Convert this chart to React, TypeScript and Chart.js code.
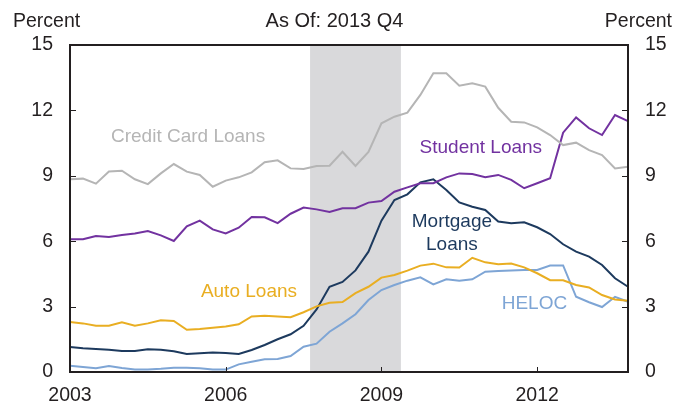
import React, { useEffect, useRef } from 'react';
import { Chart, registerables } from 'chart.js';

Chart.register(...registerables);

const years = ['2003', '2004', '2005', '2006', '2007', '2008', '2009', '2010', '2011', '2012', '2013'];
const quarters = years.flatMap((y) => ['Q1', 'Q2', 'Q3', 'Q4'].map((q) => `${y} ${q}`));
const tickYears = ['2003', '2006', '2009', '2012'];
const yTicks = [0, 3, 6, 9, 12, 15];

const creditCard = [8.84, 8.87, 8.64, 9.2, 9.23, 8.84, 8.62, 9.11, 9.54, 9.19, 9.04, 8.5, 8.78, 8.93, 9.16, 9.62, 9.71, 9.34, 9.31, 9.45, 9.46, 10.1, 9.45, 10.1, 11.41, 11.71, 11.9, 12.71, 13.7, 13.7, 13.13, 13.24, 13.09, 12.12, 11.48, 11.45, 11.22, 10.87, 10.41, 10.52, 10.18, 9.95, 9.34, 9.42];
const student = [6.09, 6.09, 6.24, 6.19, 6.28, 6.35, 6.47, 6.27, 6.01, 6.68, 6.94, 6.54, 6.36, 6.62, 7.11, 7.1, 6.83, 7.26, 7.54, 7.46, 7.34, 7.51, 7.51, 7.77, 7.84, 8.27, 8.47, 8.66, 8.66, 8.93, 9.11, 9.08, 8.93, 9.04, 8.81, 8.43, 8.66, 8.89, 10.98, 11.68, 11.18, 10.87, 11.79, 11.51];
const mortgage = [1.15, 1.09, 1.06, 1.02, 0.96, 0.96, 1.04, 1.02, 0.95, 0.83, 0.86, 0.89, 0.87, 0.83, 1.01, 1.24, 1.5, 1.73, 2.12, 2.87, 3.91, 4.13, 4.66, 5.52, 6.94, 7.89, 8.15, 8.7, 8.84, 8.35, 7.78, 7.58, 7.43, 6.9, 6.82, 6.87, 6.64, 6.33, 5.86, 5.52, 5.29, 4.91, 4.3, 3.91];
const auto = [2.29, 2.23, 2.12, 2.12, 2.28, 2.12, 2.23, 2.37, 2.34, 1.94, 1.97, 2.03, 2.09, 2.19, 2.55, 2.58, 2.55, 2.51, 2.74, 3.01, 3.18, 3.21, 3.62, 3.91, 4.33, 4.45, 4.65, 4.88, 4.97, 4.8, 4.79, 5.24, 5.03, 4.94, 4.98, 4.8, 4.53, 4.21, 4.21, 3.99, 3.88, 3.53, 3.33, 3.27];
const heloc = [0.29, 0.23, 0.17, 0.28, 0.18, 0.11, 0.12, 0.15, 0.2, 0.2, 0.17, 0.11, 0.11, 0.35, 0.47, 0.58, 0.6, 0.73, 1.16, 1.3, 1.85, 2.23, 2.65, 3.3, 3.76, 3.99, 4.19, 4.34, 4.02, 4.25, 4.19, 4.25, 4.6, 4.63, 4.66, 4.68, 4.68, 4.88, 4.89, 3.45, 3.2, 2.98, 3.45, 3.22];

// recession band, in quarter-index units
const recession = [18.5, 25.5];

const COLORS = {
  credit: '#b5b5b5',
  student: '#7232a0',
  mortgage: '#1d3a5e',
  auto: '#e9ae22',
  heloc: '#7ea5d5',
  text: '#231f20',
  shade: '#d9d9db',
};

// series labels: [text lines, quarter index, value, color]
const seriesLabels: [string[], number, number, string][] = [
  [['Credit Card Loans'], 9.1, 10.79, COLORS.credit],
  [['Student Loans'], 31.66, 10.28, COLORS.student],
  [['Mortgage', 'Loans'], 29.43, 6.89, COLORS.mortgage],
  [['Auto Loans'], 13.79, 3.68, COLORS.auto],
  [['HELOC'], 35.79, 3.12, COLORS.heloc],
];

const FONT = '"Liberation Sans", Arial, Helvetica, sans-serif';

const customPlugin = {
  id: 'custom',
  beforeDatasetsDraw(chart: any) {
    const { ctx, chartArea } = chart;
    const x = chart.scales.x;
    const x0 = x.getPixelForValue(recession[0]);
    const x1 = x.getPixelForValue(recession[1]);
    ctx.save();
    ctx.fillStyle = COLORS.shade;
    ctx.fillRect(x0, chartArea.top, x1 - x0, chartArea.bottom - chartArea.top);
    ctx.restore();
  },
  afterDatasetsDraw(chart: any) {
    const { ctx, chartArea } = chart;
    const xs = chart.scales.x;
    const ys = chart.scales.y;
    ctx.save();
    // inward tick marks
    ctx.strokeStyle = COLORS.text;
    ctx.lineWidth = 1;
    ctx.beginPath();
    yTicks.forEach((v) => {
      const py = Math.round(ys.getPixelForValue(v)) + 0.5;
      ctx.moveTo(chartArea.left, py);
      ctx.lineTo(chartArea.left + 6, py);
      ctx.moveTo(chartArea.right, py);
      ctx.lineTo(chartArea.right - 6, py);
    });
    quarters.forEach((q, i) => {
      const [yr, qq] = q.split(' ');
      if (qq === 'Q1' && tickYears.includes(yr)) {
        const px = Math.round(xs.getPixelForValue(i)) + 0.5;
        ctx.moveTo(px, chartArea.bottom);
        ctx.lineTo(px, chartArea.bottom - 5);
      }
    });
    ctx.stroke();
    // frame
    ctx.lineWidth = 2;
    ctx.strokeRect(chartArea.left, chartArea.top, chartArea.right - chartArea.left, chartArea.bottom - chartArea.top);

    // series labels
    ctx.font = `19px ${FONT}`;
    ctx.textAlign = 'center';
    ctx.textBaseline = 'middle';
    seriesLabels.forEach(([lines, xi, yv, color]) => {
      ctx.fillStyle = color;
      const px = xs.getPixelForValue(xi);
      const py = ys.getPixelForValue(yv);
      lines.forEach((line, k) => {
        ctx.fillText(line, px, py + k * 23.3);
      });
    });

    // header
    ctx.fillStyle = COLORS.text;
    ctx.font = `19.5px ${FONT}`;
    ctx.textBaseline = 'alphabetic';
    ctx.textAlign = 'left';
    ctx.fillText('Percent', 13, 27);
    ctx.textAlign = 'right';
    ctx.fillText('Percent', 672, 27);
    ctx.font = `20px ${FONT}`;
    ctx.textAlign = 'center';
    ctx.fillText('As Of: 2013 Q4', 334.5, 27);
    ctx.restore();
  },
};

export default function App() {
  const ref = useRef<HTMLCanvasElement>(null);
  useEffect(() => {
    if (!ref.current) return;
    const mk = (data: number[], color: string) => ({
      data,
      borderColor: color,
      backgroundColor: color,
      borderWidth: 2,
      pointRadius: 0,
      tension: 0,
      fill: false,
    });
    const tickFont = { family: FONT, size: 19.5 };
    const chart = new Chart(ref.current, {
      type: 'line',
      data: {
        labels: quarters,
        datasets: [
          mk(creditCard, COLORS.credit),
          mk(student, COLORS.student),
          mk(auto, COLORS.auto),
          mk(heloc, COLORS.heloc),
          mk(mortgage, COLORS.mortgage),
        ],
      },
      options: {
        animation: false,
        responsive: false,
        layout: { padding: { top: 45, left: 0, right: 0, bottom: 0 } },
        plugins: { legend: { display: false }, tooltip: { enabled: false }, title: { display: false } },
        scales: {
          x: {
            type: 'category',
            offset: false,
            grid: { display: false, drawTicks: false },
            border: { display: false },
            ticks: {
              autoSkip: false,
              maxRotation: 0,
              minRotation: 0,
              padding: 12,
              color: COLORS.text,
              font: tickFont,
              callback: (_v: any, i: number) => {
                const [yr, qq] = quarters[i].split(' ');
                return qq === 'Q1' && tickYears.includes(yr) ? yr : '';
              },
            },
            afterFit: (s: any) => {
              s.height = 33;
            },
          },
          y: {
            position: 'left',
            min: 0,
            max: 15,
            grid: { display: false, drawTicks: false },
            border: { display: false },
            afterBuildTicks: (s: any) => {
              s.ticks = yTicks.map((v) => ({ value: v }));
            },
            ticks: { padding: 17, color: COLORS.text, font: tickFont },
            afterFit: (s: any) => {
              s.width = 70;
            },
          },
          y2: {
            position: 'right',
            min: 0,
            max: 15,
            grid: { display: false, drawTicks: false },
            border: { display: false },
            afterBuildTicks: (s: any) => {
              s.ticks = yTicks.map((v) => ({ value: v }));
            },
            ticks: { padding: 17, color: COLORS.text, font: tickFont },
            afterFit: (s: any) => {
              s.width = 48;
            },
          },
        },
      },
      plugins: [customPlugin],
    } as any);
    return () => chart.destroy();
  }, []);
  return (
    <div style={{ position: 'fixed', left: 0, top: 0, width: 676, height: 405, background: '#fff' }}>
      <canvas ref={ref} width={676} height={405} style={{ display: 'block' }} />
    </div>
  );
}
